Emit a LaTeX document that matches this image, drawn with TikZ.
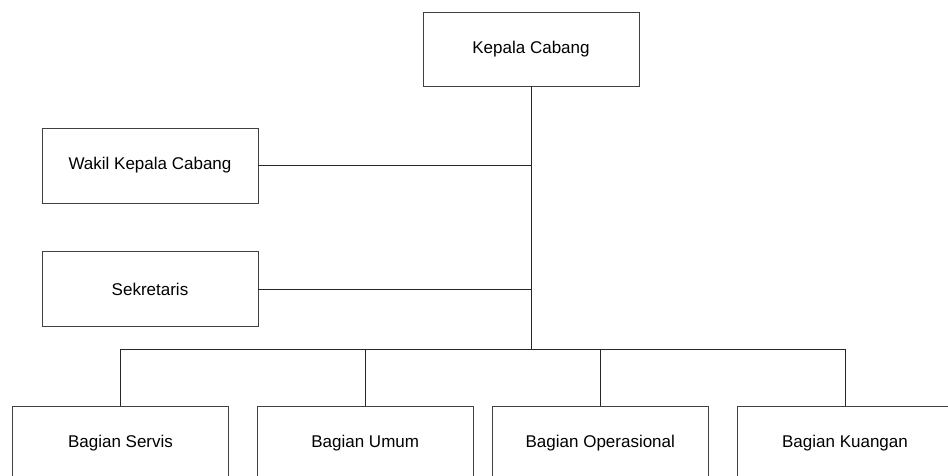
\documentclass[tikz,border=0pt]{standalone}
\usepackage{fontspec}
\setmainfont{Liberation Sans}
\begin{document}
\begin{tikzpicture}[x=1pt,y=-1pt,
  unit/.style={draw=black!75, line width=0.8pt, rectangle, minimum width=216pt,
    minimum height=75pt, inner sep=0pt, font=\fontsize{17}{19}\selectfont},
  link/.style={draw=black!85, line width=0.8pt}]
\useasboundingbox (0,0) rectangle (948,476);
\clip (0,0) rectangle (948,476);
\fill[white] (0,0) rectangle (948,476);

% head of the branch
\node[unit, minimum height=74pt] (kepala) at (531,49) {Kepala Cabang};

% staff positions on the left
\node[unit] (wakil) at (150,165.5) {Wakil Kepala Cabang};
\node[unit] (sekretaris) at (150,289) {Sekretaris};

% departments
\node[unit] (servis) at (120.5,443.5) {Bagian Servis};
\node[unit] (umum) at (365.2,443.5) {Bagian Umum};
\node[unit] (operasional) at (600.3,443.5) {Bagian Operasional};
\node[unit] (kuangan) at (845,443.5) {Bagian Kuangan};

\coordinate (hub) at (531.5,349.5);

% trunk and staff branches
\draw[link] (kepala.south) -- (kepala.south |- hub);
\draw[link] (wakil.east) -- (wakil.east -| kepala.south);
\draw[link] (sekretaris.east) -- (sekretaris.east -| kepala.south);

% department bus
\draw[link] (servis.north) -- (servis.north |- hub) -- (kuangan.north |- hub) -- (kuangan.north);
\draw[link] (umum.north) -- (umum.north |- hub);
\draw[link] (operasional.north) -- (operasional.north |- hub);
\end{tikzpicture}
\end{document}
